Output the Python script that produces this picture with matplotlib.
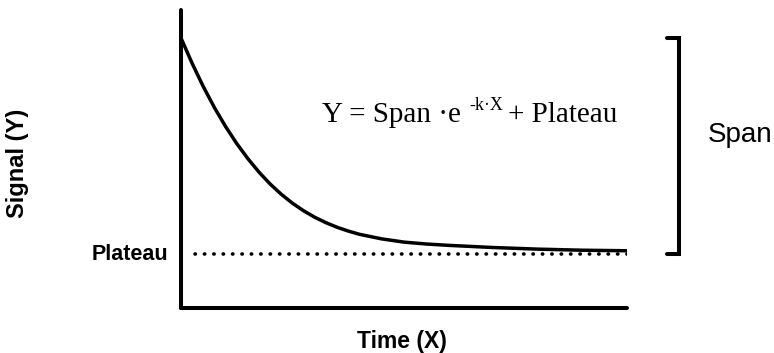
import numpy as np
from matplotlib import pyplot as plt

# values (smoothed by eye)
time_x = [0.0, 0.25, 0.5, 0.75, 1.0, 1.25, 1.5, 1.75, 2.0, 2.25, 2.5, 2.75,
          3.0, 3.25, 3.5, 3.75, 4.0, 4.5, 5.0, 5.5, 6.0, 7.0, 8.0, 9.0, 10.0]
signal_y = [5.0, 4.53, 4.10, 3.71, 3.36, 3.045, 2.765, 2.515, 2.295, 2.105, 1.94, 1.80,
            1.68, 1.58, 1.495, 1.425, 1.365, 1.28, 1.22, 1.185, 1.16, 1.12, 1.09, 1.07, 1.06]
plateau = 1.0
span = 4.0
plateau_x = [0.31, 10.0]

fig = plt.figure(figsize=(7.74, 3.53), dpi=100)
ax = fig.add_axes([181 / 774, 45 / 353, 446 / 774, 298 / 353])
ax.set_xlim(0, 10)
ax.set_ylim(0, 298 / 54)

for side in ['top', 'right']:
    ax.spines[side].set_visible(False)
for side in ['left', 'bottom']:
    ax.spines[side].set_linewidth(2.9)
    ax.spines[side].set_capstyle('round')
ax.set_xticks([])
ax.set_yticks([])

ax.plot(time_x, signal_y, color='black', lw=2.5, solid_capstyle='round',
        solid_joinstyle='round')
ax.plot(plateau_x, [plateau, plateau], color='black', lw=2.6,
        linestyle=(0, (0.1, 2.5)), dash_capstyle='round')

# bracket for the span
ax.plot([10.9, 11.17, 11.17, 10.9], [plateau + span, plateau + span, plateau, plateau],
        color='black', lw=2.9, solid_capstyle='round', solid_joinstyle='miter',
        clip_on=False)

serif = 'Liberation Serif'
sans = 'Liberation Sans'
ax.text(3.16, 3.44, 'Y = Span \u00b7e', fontsize=21, family=serif, va='baseline')
ax.text(6.46, 3.67, '-k\u00b7X', fontsize=13, family=serif, va='baseline')
ax.text(7.33, 3.44, '+ Plateau', fontsize=21, family=serif, va='baseline')

ax.text(11.82, 3.07, 'Span', fontsize=20, family=sans, va='baseline', clip_on=False)
ax.text(-0.29, plateau, 'Plateau', fontsize=15.5, family=sans, fontweight='bold',
        ha='right', va='center', clip_on=False)

fig.text(18 / 774, 1 - 163.5 / 353, 'Signal (Y)', fontsize=17, family=sans,
         fontweight='bold', rotation=90, ha='center', va='center')
fig.text(402 / 774, 1 - 348 / 353, 'Time (X)', fontsize=16.5, family=sans,
         fontweight='bold', ha='center', va='baseline')

plt.savefig('out.png', dpi=100)
